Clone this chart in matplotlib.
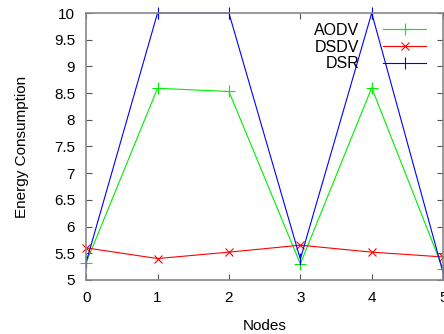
import numpy as np
import matplotlib
matplotlib.use("Agg")
import matplotlib.pyplot as plt

nodes = [0, 1, 2, 3, 4, 5]
aodv = [5.32, 8.59, 8.53, 5.30, 8.60, 5.20]
dsdv = [5.60, 5.40, 5.52, 5.65, 5.52, 5.43]
dsr = [5.33, 10.0, 10.0, 5.39, 10.0, 5.13]

yticks = [5, 5.5, 6, 6.5, 7, 7.5, 8, 8.5, 9, 9.5, 10]
ytick_labels = ["5", "5.5", "6", "6.5", "7", "7.5", "8", "8.5", "9", "9.5", "10"]

plt.rcParams['font.family'] = ['Liberation Sans', 'DejaVu Sans']

fig = plt.figure(figsize=[4.44, 3.34], dpi=100)
ax = fig.add_axes([0.194, 0.162, 0.804, 0.799])

ax.plot(nodes, aodv, color='#00ee00', lw=0.8, marker='+', ms=8, mew=0.8, label='AODV', clip_on=False)
ax.plot(nodes, dsdv, color='#ff0000', lw=0.8, marker='x', ms=6, mew=0.8, label='DSDV', clip_on=False)
ax.plot(nodes, dsr, color='#0000ff', lw=0.8, marker='|', ms=8, mew=0.8, label='DSR', clip_on=False)

ax.set_xlim(0, 5)
ax.set_ylim(5, 10)
ax.set_xticks(nodes)
ax.set_yticks(yticks)
ax.set_yticklabels(ytick_labels)
ax.tick_params(direction='in', top=True, right=True, length=4, width=0.8,
               color='#555555', labelsize=11, pad=8)

for s in ax.spines.values():
    s.set_color('#888888')
    s.set_linewidth(1.2)

ax.set_xlabel("Nodes", fontsize=11, labelpad=10)
ax.set_ylabel("Energy Consumption", fontsize=11, labelpad=18)

leg = ax.legend(loc='upper right', frameon=False, markerfirst=False, fontsize=11.5,
                handlelength=2.7, handletextpad=1.5, labelspacing=0.12,
                bbox_to_anchor=(0.98, 1.0), borderaxespad=0.2)
for t in leg.get_texts():
    t.set_ha('right')

plt.savefig('out.png', dpi=100)
plt.close()
